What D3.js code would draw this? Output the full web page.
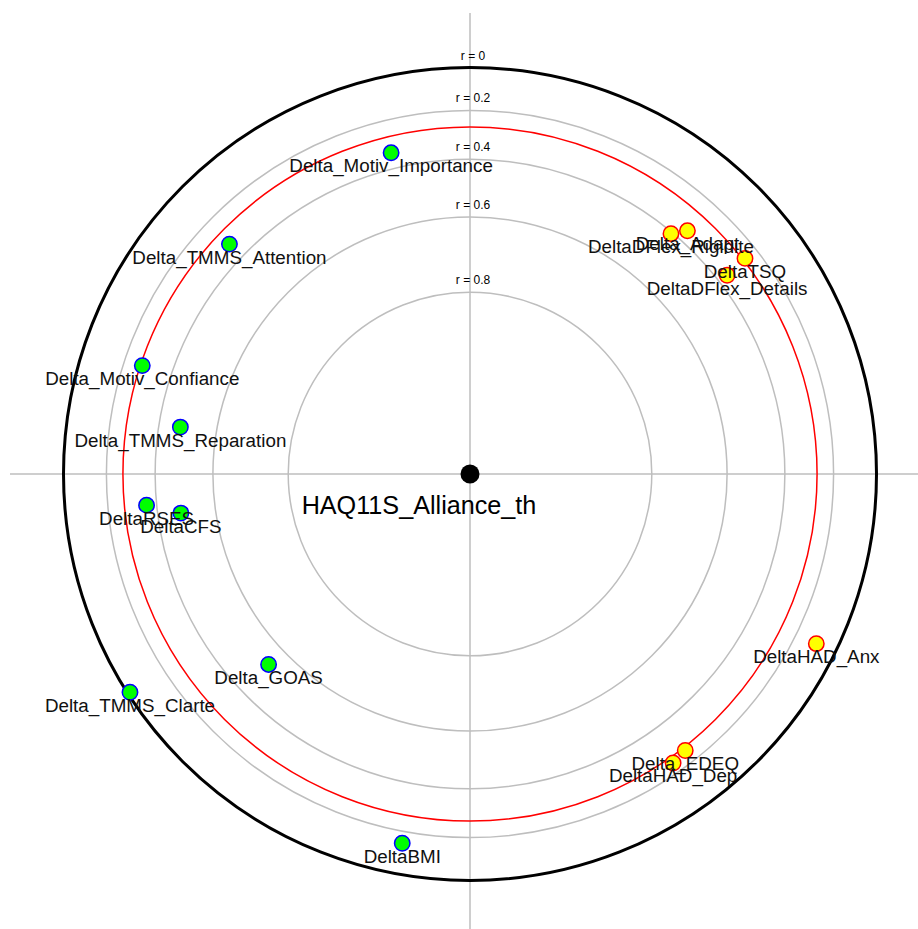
<!DOCTYPE html>
<html>
<head>
<meta charset="utf-8">
<script src="https://cdnjs.cloudflare.com/ajax/libs/d3/7.8.5/d3.min.js"></script>
<style>
  body { margin: 0; background: #fff; }
  svg { display: block; font-family: "Liberation Sans", Arial, sans-serif; }
</style>
</head>
<body>
<div id="container"></div>
<script>
// variables correlated with the target
var names = ["Delta_Motiv_Importance", "Delta_TMMS_Attention", "Delta_Motiv_Confiance",
    "Delta_TMMS_Reparation", "DeltaRSES", "DeltaCFS", "Delta_GOAS", "Delta_TMMS_Clarte",
    "DeltaBMI", "DeltaDFlex_Rigidite", "Delta_Adapt", "DeltaTSQ", "DeltaDFlex_Details",
    "DeltaHAD_Anx", "Delta_EDEQ", "DeltaHAD_Dep"];
// correlation (absolute) with the target
var rValues = [0.338, 0.330, 0.279, 0.479, 0.361, 0.485, 0.535, 0.012,
    0.147, 0.406, 0.356, 0.261, 0.361, 0.100, 0.257, 0.245];
// direction of each variable, degrees clockwise from the top
var bearings = [346.2, 313.7, 288.3, 279.2, 264.5, 262.3, 226.6, 237.3,
    190.4, 39.9, 41.8, 51.9, 52.3, 116.1, 142.1, 144.9];
// sign of correlation
var signs = ["neg", "neg", "neg", "neg", "neg", "neg", "neg", "neg",
    "neg", "pos", "pos", "pos", "pos", "pos", "pos", "pos"];

var target = "HAQ11S_Alliance_th";
var gridTicks = [0, 0.2, 0.4, 0.6, 0.8];
var threshold = 0.271;

var width = 918, height = 929;
var cx = 470, cy = 474, R = 406.5;

// distance from centre grows with sqrt(1 - r)
var radius = d3.scaleSqrt().domain([0, 1]).range([0, R]);
var rad = r => radius(1 - r);
var angle = d3.scaleLinear().domain([0, 360]).range([0, 2 * Math.PI]);

var svg = d3.select("#container")
    .append("svg")
    .attr("width", width)
    .attr("height", height);

var g = svg.append("g").attr("transform", "translate(" + cx + "," + cy + ")");

// axes
g.append("line").attr("x1", -460).attr("x2", 460).attr("y1", 0).attr("y2", 0)
    .attr("stroke", "#bebebe").attr("stroke-width", 1.5);
g.append("line").attr("x1", 0).attr("x2", 0).attr("y1", -461).attr("y2", 461)
    .attr("stroke", "#bebebe").attr("stroke-width", 1.5);

// grid circles
g.selectAll("circle.grid")
    .data(gridTicks)
    .enter()
    .append("circle")
    .attr("class", "grid")
    .attr("r", d => rad(d))
    .attr("fill", "none")
    .attr("stroke", d => d === 0 ? "#000" : "#bebebe")
    .attr("stroke-width", d => d === 0 ? 3 : 1.5);

g.append("circle")
    .attr("r", rad(threshold))
    .attr("fill", "none")
    .attr("stroke", "red")
    .attr("stroke-width", 1.5);

g.selectAll("text.tick")
    .data(gridTicks)
    .enter()
    .append("text")
    .attr("class", "tick")
    .attr("x", 3)
    .attr("y", d => -rad(d) - 8)
    .attr("text-anchor", "middle")
    .style("font-size", "12px")
    .text(d => "r = " + d);

// centre
g.append("circle").attr("r", 9.5).attr("fill", "#000");
g.append("text")
    .attr("x", -51)
    .attr("y", 40)
    .attr("text-anchor", "middle")
    .style("font-size", "25.2px")
    .text(target);

var pts = names.map((n, i) => {
    var p = d3.pointRadial(angle(bearings[i]), rad(rValues[i]));
    return {name: n, x: p[0], y: p[1], sign: signs[i]};
});

g.selectAll("circle.pt")
    .data(pts)
    .enter()
    .append("circle")
    .attr("class", "pt")
    .attr("cx", d => d.x)
    .attr("cy", d => d.y)
    .attr("r", 7.7)
    .attr("fill", d => d.sign === "neg" ? "#00ff00" : "#ffff00")
    .attr("stroke", d => d.sign === "neg" ? "#0000ff" : "#ff0000")
    .attr("stroke-width", 1.5);

g.selectAll("text.lbl")
    .data(pts)
    .enter()
    .append("text")
    .attr("class", "lbl")
    .attr("x", d => d.x)
    .attr("y", d => d.y + 19.5)
    .attr("text-anchor", "middle")
    .style("font-size", "18.8px")
    .attr("fill", "#111")
    .text(d => d.name);
</script>
</body>
</html>
